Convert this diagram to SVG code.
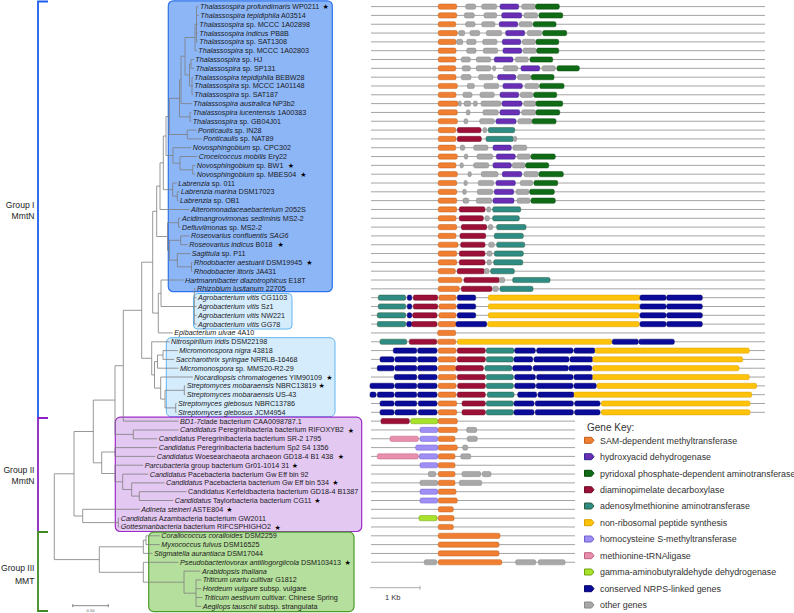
<svg xmlns="http://www.w3.org/2000/svg" width="794" height="613" viewBox="0 0 794 613">
<style>
.t{font-family:"Liberation Sans",Arial,sans-serif;font-size:7.2px;fill:#1a1a1a}
.i{font-style:italic}
.s{font-family:"DejaVu Sans",sans-serif;font-size:7px;fill:#000;text-anchor:middle}
.gl{font-family:"Liberation Sans",Arial,sans-serif;font-size:8.6px;fill:#222;text-anchor:end}
.lg{font-family:"Liberation Sans",Arial,sans-serif;font-size:8.9px;fill:#333}
.tree{fill:none;stroke:#7d7d7d;stroke-width:0.8}
.ln{stroke:#9a9a9a;stroke-width:0.9}
rect.o,rect.p,rect.g,rect.c,rect.t,rect.y,rect.l,rect.k,rect.m,rect.n,rect.x{stroke-width:0.5;rx:1.6px;ry:1.6px}
.o{fill:#f07f32;stroke:#c0601c}
.p{fill:#6a2db4;stroke:#2a2a90}
.g{fill:#0f6b16;stroke:#094d0d}
.c{fill:#9c1038;stroke:#6d0a25}
.t2{fill:#2f8c84;stroke:#2d5d3d}
.y{fill:#ffc20a;stroke:#d8a000}
.l{fill:#9f8ff5;stroke:#6e5fd0}
.k{fill:#e98fae;stroke:#c0607f}
.m{fill:#a8e22a;stroke:#6ea010}
.n{fill:#0b0b99;stroke:#05056a}
.x{fill:#a8a8a8;stroke:#8a8a8a}
rect.t{fill:#2f8c84;stroke:#2d5d3d}
</style>

<g id="boxes">
<rect x="168.3" y="0.8" width="164" height="290.9" rx="5" fill="#8db6f7" stroke="#2d72ea" stroke-width="1.2"/>
<rect x="193.5" y="293.5" width="98.5" height="35.5" rx="4" fill="#d5ecfd" stroke="#62b6f0" stroke-width="1"/>
<rect x="166.3" y="337.7" width="168.7" height="79" rx="5" fill="#d5ecfd" stroke="#62b6f0" stroke-width="1"/>
<rect x="115.3" y="417.2" width="246.4" height="114.3" rx="5" fill="#e3c8f2" stroke="#9b2bc6" stroke-width="1.2"/>
<rect x="148.7" y="532.2" width="205.3" height="79.4" rx="5" fill="#b5df9c" stroke="#4c9a2c" stroke-width="1.2"/>
</g>

<g id="groups">
<path d="M48 1.5H38V418" fill="none" stroke="#1f5fef" stroke-width="1.8"/>
<path d="M48 418H38V531.5" fill="none" stroke="#8a22c4" stroke-width="1.8"/>
<path d="M48 532H38V611H48" fill="none" stroke="#3f8a25" stroke-width="1.8"/>
<text class="gl" x="34.5" y="207.5">Group I</text>
<text class="gl" x="34.5" y="218.8">MmtN</text>
<text class="gl" x="34.5" y="473">Group II</text>
<text class="gl" x="34.5" y="484">MmtN</text>
<text class="gl" x="34.5" y="570.8">Group III</text>
<text class="gl" x="34.5" y="583.8">MMT</text>
</g>

<g id="connectors">
<path class="tree" d="M196.5 6.6V41.9M196.5 6.6H198.5M196.5 15.4H198.8M196.5 24.2H197.8M196.5 33.1H197.8M196.5 41.9H197.8
M195 24.2V50.7M195 24.2H196.5M195 50.7H196.8
M191 59.5V68.3M191 59.5H193.8M191 68.3H194.2
M192 77.2V94.8M192 77.2H192.8M192 86H192.8M192 94.8H192.8
M189.5 63.9V86M189.5 63.9H191M189.5 86H192
M185 37.5V75M185 37.5H195M185 75H189.5
M181 56.2V103.6M181 56.2H185M181 103.6H191.8
M190 112.4V121.3M190 112.4H191.2M190 121.3H191.2
M179.5 79.9V116.9M179.5 79.9H181M179.5 116.9H190
M187.3 130.1V138.9M187.3 130.1H196.5M187.3 138.9H201.8
M169.3 98.4V134.5M169.3 98.4H179.5M169.3 134.5H187.3
M192.7 165.4V174.2M192.7 165.4H195.2M192.7 174.2H195.2
M180 156.5V169.8M180 156.5H197.2M180 169.8H192.7
M173 147.7V163.2M173 147.7H191.2M173 163.2H180
M166 116.5V155.5M166 116.5H169.3M166 155.5H173
M177.3 191.8V200.6M177.3 191.8H179.5M177.3 200.6H178.5
M172.7 183V196.2M172.7 183H176.8M172.7 196.2H177.3
M163.3 136V189.6M163.3 136H166M163.3 189.6H172.7
M160 162.8V209.5M160 162.8H163.3M160 209.5H189.5
M178.5 218.3V227.1M178.5 218.3H180.5M178.5 227.1H180.5
M180.7 235.9V244.7M180.7 235.9H189.5M180.7 244.7H187.8
M191.5 262.4V271.2M191.5 262.4H192.5M191.5 271.2H192.5
M177.3 253.6V266.8M177.3 253.6H190.2M177.3 266.8H191.5
M169.3 240.3V260.2M169.3 240.3H180.7M169.3 260.2H177.3
M167.5 222.7V250.3M167.5 222.7H178.5M167.5 250.3H169.3
M156.7 186.1V236.5M156.7 186.1H160M156.7 236.5H167.5
M194.3 288.8V324.1M194.3 288.8H195.5M194.3 297.7H196.5M194.3 306.5H196.5M194.3 315.3H196.5M194.3 324.1H196.5
M161 280V306.5M161 280H183.5M161 306.5H194.3
M158.3 293.3V332.9M158.3 293.3H161M158.3 332.9H172.8
M152.7 211.3V313.1M152.7 211.3H156.7M152.7 313.1H158.3
M163 350.6V359.4M163 350.6H177.8M163 359.4H174.2
M157.5 355V368.2M157.5 355H163M157.5 368.2H178.5
M184.3 385.9V394.7M184.3 385.9H185.2M184.3 394.7H185.2
M175.7 403.5V412.3M175.7 403.5H176.5M175.7 412.3H176.5
M165 390.3V407.9M165 390.3H184.3M165 407.9H175.7
M160.7 377V399.1M160.7 377H192.8M160.7 399.1H165
M154.5 361.6V388.1M154.5 361.6H157.5M154.5 388.1H160.7
M151.7 341.8V374.9M151.7 341.8H169.5M151.7 374.9H154.5
M141.7 262.2V358.3M141.7 262.2H152.7M141.7 358.3H151.7
M123.3 310.3V421.1M123.3 310.3H141.7M123.3 421.1H178.5
M133.3 430V438.8M133.3 430H178.5M133.3 438.8H157.2
M115 365.7V434.4M115 365.7H123.3M115 434.4H133.3
M115 447.6V456.4M115 447.6H157.2M115 456.4H155.2
M139.3 491.7V500.5M139.3 491.7H186.5M139.3 500.5H173.2
M131.7 482.9V496.1M131.7 482.9H164.5M131.7 496.1H139.3
M122.7 474.1V489.5M122.7 474.1H148.2M122.7 489.5H131.7
M115 465.2V481.8M115 465.2H143.2M115 481.8H122.7
M101.7 452V473.5M101.7 452H115M101.7 473.5H115
M93.3 400.1V462.8M93.3 400.1H115M93.3 462.8H101.7
M118.3 518.2V527M118.3 518.2H119.2M118.3 527H119.2
M82.7 509.3V522.6M82.7 509.3H139.8M82.7 522.6H118.3
M74 431.5V516M74 431.5H93.3M74 516H82.7
M146 535.8V544.6M146 535.8H159.8M146 544.6H159.8
M143.3 540.2V553.4M143.3 540.2H146M143.3 553.4H152.5
M196 579.9V606.4M196 579.9H201.2M196 588.7H201.2M196 597.5H202.5M196 606.4H201.2
M184 571.1V593.2M184 571.1H200.5M184 593.2H196
M143.3 562.3V582.2M143.3 562.3H178.5M143.3 582.2H184
M99.3 546.8V572.3M99.3 546.8H143.3M99.3 572.3H143.3
M54.3 473.8V559.6M54.3 473.8H74M54.3 559.6H99.3"/>
</g>

<g id="n1" transform="translate(0,6.6)"><line class="ln" x1="371" x2="765"/><rect class="o" x="438.3" y="-2.6" width="18.4" height="5.2"/><rect class="x" x="465.7" y="-2.6" width="10" height="5.2"/><rect class="x" x="481.7" y="-2.6" width="15" height="5.2"/><rect class="p" x="500" y="-2.6" width="18.7" height="5.2"/><rect class="x" x="521.7" y="-2.6" width="14" height="5.2"/><rect class="g" x="535.7" y="-2.6" width="23.6" height="5.2"/><text class="t" x="200" y="2.5"><tspan class="i">Thalassospira profundimaris</tspan> WP0211</text><text class="s" x="325.7" y="2.6">★</text></g>
<g id="n2" transform="translate(0,15.42)"><line class="ln" x1="371" x2="765"/><rect class="o" x="438.3" y="-2.6" width="18.4" height="5.2"/><rect class="x" x="464.3" y="-2.6" width="10" height="5.2"/><rect class="x" x="484" y="-2.6" width="12.7" height="5.2"/><rect class="p" x="501.7" y="-2.6" width="20" height="5.2"/><rect class="x" x="524" y="-2.6" width="13.7" height="5.2"/><rect class="g" x="539" y="-2.6" width="23.7" height="5.2"/><text class="t" x="200.3" y="2.5"><tspan class="i">Thalassospira tepidiphila</tspan> A03514</text></g>
<g id="n3" transform="translate(0,24.24)"><line class="ln" x1="371" x2="765"/><rect class="o" x="438.3" y="-2.6" width="17.4" height="5.2"/><rect class="x" x="465.7" y="-2.6" width="9.3" height="5.2"/><rect class="x" x="481.7" y="-2.6" width="13.3" height="5.2"/><rect class="p" x="499.3" y="-2.6" width="18.4" height="5.2"/><rect class="x" x="519.3" y="-2.6" width="13" height="5.2"/><rect class="g" x="533.3" y="-2.6" width="22.7" height="5.2"/><text class="t" x="199.3" y="2.5"><tspan class="i">Thalassospira</tspan> sp. MCCC 1A02898</text></g>
<g id="n4" transform="translate(0,33.06)"><line class="ln" x1="371" x2="765"/><rect class="o" x="438.3" y="-2.6" width="19" height="5.2"/><rect class="x" x="458.7" y="-2.6" width="6" height="5.2"/><rect class="x" x="470" y="-2.6" width="9.7" height="5.2"/><rect class="x" x="486.3" y="-2.6" width="15.4" height="5.2"/><rect class="p" x="505.7" y="-2.6" width="19" height="5.2"/><rect class="x" x="527.3" y="-2.6" width="14.4" height="5.2"/><rect class="g" x="542.7" y="-2.6" width="24" height="5.2"/><text class="t" x="199.3" y="2.5"><tspan class="i">Thalassospira indicus</tspan> PB8B</text></g>
<g id="n5" transform="translate(0,41.88)"><line class="ln" x1="371" x2="765"/><rect class="o" x="438.3" y="-2.6" width="17.7" height="5.2"/><rect class="x" x="456.6" y="-2.6" width="6.1" height="5.2"/><rect class="x" x="466.7" y="-2.6" width="9.3" height="5.2"/><rect class="x" x="482.7" y="-2.6" width="14.3" height="5.2"/><rect class="p" x="502.3" y="-2.6" width="18.4" height="5.2"/><rect class="x" x="522.3" y="-2.6" width="13" height="5.2"/><rect class="g" x="536" y="-2.6" width="22.7" height="5.2"/><text class="t" x="199.3" y="2.5"><tspan class="i">Thalassospira</tspan> sp. SAT1308</text></g>
<g id="n6" transform="translate(0,50.7)"><line class="ln" x1="371" x2="765"/><rect class="o" x="438.3" y="-2.6" width="17.7" height="5.2"/><rect class="x" x="466.7" y="-2.6" width="9.3" height="5.2"/><rect class="x" x="483.3" y="-2.6" width="14.4" height="5.2"/><rect class="p" x="503" y="-2.6" width="18.7" height="5.2"/><rect class="x" x="523" y="-2.6" width="13.3" height="5.2"/><rect class="g" x="536.7" y="-2.6" width="22" height="5.2"/><text class="t" x="198.3" y="2.5"><tspan class="i">Thalassospira</tspan> sp. MCCC 1A02803</text></g>
<g id="n7" transform="translate(0,59.52)"><line class="ln" x1="371" x2="765"/><rect class="o" x="438.3" y="-2.6" width="17.7" height="5.2"/><rect class="x" x="461.3" y="-2.6" width="9" height="5.2"/><rect class="x" x="476.3" y="-2.6" width="14.4" height="5.2"/><rect class="p" x="494.3" y="-2.6" width="18.7" height="5.2"/><rect class="x" x="515.3" y="-2.6" width="13" height="5.2"/><rect class="g" x="530" y="-2.6" width="22.7" height="5.2"/><text class="t" x="195.3" y="2.5"><tspan class="i">Thalassospira</tspan> sp. HJ</text></g>
<g id="n8" transform="translate(0,68.34)"><line class="ln" x1="371" x2="765"/><rect class="o" x="438.3" y="-2.6" width="17.4" height="5.2"/><rect class="x" x="462.3" y="-2.6" width="8" height="5.2"/><rect class="x" x="476.3" y="-2.6" width="14.4" height="5.2"/><rect class="x" x="492.7" y="-2.6" width="3" height="5.2"/><rect class="x" x="503.3" y="-2.6" width="14.4" height="5.2"/><rect class="p" x="521" y="-2.6" width="18.7" height="5.2"/><rect class="x" x="542" y="-2.6" width="13.3" height="5.2"/><rect class="g" x="557" y="-2.6" width="22.3" height="5.2"/><text class="t" x="195.7" y="2.5"><tspan class="i">Thalassospira</tspan> sp. SP131</text></g>
<g id="n9" transform="translate(0,77.16)"><line class="ln" x1="371" x2="765"/><rect class="o" x="438.3" y="-2.6" width="17.7" height="5.2"/><rect class="x" x="461.3" y="-2.6" width="9.7" height="5.2"/><rect class="x" x="478.7" y="-2.6" width="14.3" height="5.2"/><rect class="p" x="497.7" y="-2.6" width="18" height="5.2"/><rect class="x" x="517.7" y="-2.6" width="13" height="5.2"/><rect class="g" x="531.3" y="-2.6" width="22.7" height="5.2"/><text class="t" x="194.3" y="2.5"><tspan class="i">Thalassospira tepidiphila</tspan> BEBW28</text></g>
<g id="n10" transform="translate(0,85.98)"><line class="ln" x1="371" x2="765"/><rect class="o" x="438.3" y="-2.6" width="19" height="5.2"/><rect class="x" x="467.3" y="-2.6" width="7" height="5.2"/><rect class="x" x="484" y="-2.6" width="14.7" height="5.2"/><rect class="p" x="503" y="-2.6" width="19.3" height="5.2"/><rect class="x" x="525" y="-2.6" width="13.7" height="5.2"/><rect class="g" x="539.7" y="-2.6" width="24.3" height="5.2"/><text class="t" x="194.3" y="2.5"><tspan class="i">Thalassospira</tspan> sp. MCCC 1A01148</text></g>
<g id="n11" transform="translate(0,94.8)"><line class="ln" x1="371" x2="765"/><rect class="o" x="438.3" y="-2.6" width="17.7" height="5.2"/><rect class="x" x="463" y="-2.6" width="9" height="5.2"/><rect class="x" x="480" y="-2.6" width="14.3" height="5.2"/><rect class="p" x="500" y="-2.6" width="18.7" height="5.2"/><rect class="x" x="520.3" y="-2.6" width="12.7" height="5.2"/><rect class="g" x="533.7" y="-2.6" width="23" height="5.2"/><text class="t" x="194.3" y="2.5"><tspan class="i">Thalassospira</tspan> sp. SAT187</text></g>
<g id="n12" transform="translate(0,103.62)"><line class="ln" x1="371" x2="765"/><rect class="o" x="438.3" y="-2.6" width="19.7" height="5.2"/><rect class="x" x="458.5" y="-2.6" width="2.8" height="5.2"/><rect class="x" x="464" y="-2.6" width="6.7" height="5.2"/><rect class="x" x="473.3" y="-2.6" width="4" height="5.2"/><rect class="x" x="481" y="-2.6" width="20" height="5.2"/><rect class="p" x="502" y="-2.6" width="20" height="5.2"/><rect class="x" x="523.7" y="-2.6" width="12.3" height="5.2"/><rect class="g" x="536" y="-2.6" width="26.7" height="5.2"/><text class="t" x="193.3" y="2.5"><tspan class="i">Thalassospira australica</tspan> NP3b2</text></g>
<g id="n13" transform="translate(0,112.44)"><line class="ln" x1="371" x2="765"/><rect class="o" x="438.3" y="-2.6" width="19" height="5.2"/><rect class="x" x="466.3" y="-2.6" width="3.7" height="5.2"/><rect class="x" x="483" y="-2.6" width="15.3" height="5.2"/><rect class="p" x="500" y="-2.6" width="19.7" height="5.2"/><rect class="x" x="521.7" y="-2.6" width="14" height="5.2"/><rect class="g" x="536" y="-2.6" width="23.7" height="5.2"/><text class="t" x="192.7" y="2.5"><tspan class="i">Thalassospira lucentensis</tspan> 1A00383</text></g>
<g id="n14" transform="translate(0,121.26)"><line class="ln" x1="371" x2="765"/><rect class="o" x="438.3" y="-2.6" width="19" height="5.2"/><rect class="x" x="464" y="-2.6" width="3.7" height="5.2"/><rect class="x" x="479.7" y="-2.6" width="14.6" height="5.2"/><rect class="p" x="496" y="-2.6" width="20" height="5.2"/><rect class="x" x="518" y="-2.6" width="14" height="5.2"/><rect class="g" x="532.3" y="-2.6" width="23.7" height="5.2"/><text class="t" x="192.7" y="2.5"><tspan class="i">Thalassospira</tspan> sp. GB04J01</text></g>
<g id="n15" transform="translate(0,130.08)"><line class="ln" x1="371" x2="765"/><rect class="o" x="438.3" y="-2.6" width="17.4" height="5.2"/><rect class="c" x="457.3" y="-2.6" width="23.7" height="5.2"/><rect class="x" x="483" y="-2.6" width="3.7" height="5.2"/><rect class="t" x="488.3" y="-2.6" width="26.4" height="5.2"/><text class="t" x="198" y="2.5"><tspan class="i">Ponticaulis</tspan> sp. IN28</text></g>
<g id="n16" transform="translate(0,138.9)"><line class="ln" x1="371" x2="765"/><rect class="o" x="438.3" y="-2.6" width="17.7" height="5.2"/><rect class="c" x="457.3" y="-2.6" width="24" height="5.2"/><rect class="t" x="486" y="-2.6" width="27.3" height="5.2"/><rect class="x" x="513.3" y="-2.6" width="3.4" height="5.2"/><text class="t" x="203.3" y="2.5"><tspan class="i">Ponticaulis</tspan> sp. NAT89</text></g>
<g id="n17" transform="translate(0,147.72)"><line class="ln" x1="371" x2="765"/><rect class="o" x="438.3" y="-2.6" width="17.4" height="5.2"/><rect class="x" x="460.3" y="-2.6" width="4.4" height="5.2"/><rect class="x" x="473.7" y="-2.6" width="14.3" height="5.2"/><rect class="p" x="493" y="-2.6" width="18.3" height="5.2"/><rect class="x" x="513" y="-2.6" width="13.7" height="5.2"/><text class="t" x="192.7" y="2.5"><tspan class="i">Novosphingobium</tspan> sp. CPC302</text></g>
<g id="n18" transform="translate(0,156.54)"><line class="ln" x1="371" x2="765"/><rect class="o" x="438.3" y="-2.6" width="19" height="5.2"/><rect class="x" x="464.3" y="-2.6" width="3.4" height="5.2"/><rect class="x" x="477" y="-2.6" width="15.7" height="5.2"/><rect class="p" x="496.3" y="-2.6" width="19" height="5.2"/><rect class="x" x="517.3" y="-2.6" width="13" height="5.2"/><rect class="g" x="531" y="-2.6" width="24.3" height="5.2"/><text class="t" x="198.7" y="2.5"><tspan class="i">Croceicoccus mobilis</tspan> Ery22</text></g>
<g id="n19" transform="translate(0,165.36)"><line class="ln" x1="371" x2="765"/><rect class="o" x="438.3" y="-2.6" width="17.7" height="5.2"/><rect class="x" x="460" y="-2.6" width="3.3" height="5.2"/><rect class="x" x="473.7" y="-2.6" width="15" height="5.2"/><rect class="p" x="493" y="-2.6" width="18.3" height="5.2"/><rect class="x" x="512.3" y="-2.6" width="13" height="5.2"/><rect class="g" x="525.7" y="-2.6" width="23" height="5.2"/><text class="t" x="196.7" y="2.5"><tspan class="i">Novosphingobium</tspan> sp. BW1</text><text class="s" x="291" y="2.6">★</text></g>
<g id="n20" transform="translate(0,174.18)"><line class="ln" x1="371" x2="765"/><rect class="o" x="438.3" y="-2.6" width="19" height="5.2"/><rect class="x" x="468" y="-2.6" width="3.3" height="5.2"/><rect class="x" x="481.3" y="-2.6" width="16.7" height="5.2"/><rect class="p" x="502.3" y="-2.6" width="19.4" height="5.2"/><rect class="x" x="524" y="-2.6" width="14.3" height="5.2"/><rect class="g" x="539" y="-2.6" width="24.3" height="5.2"/><text class="t" x="196.7" y="2.5"><tspan class="i">Novosphingobium</tspan> sp. MBES04</text><text class="s" x="303.3" y="2.6">★</text></g>
<g id="n21" transform="translate(0,183)"><line class="ln" x1="371" x2="765"/><rect class="o" x="438.3" y="-2.6" width="18.4" height="5.2"/><rect class="x" x="464" y="-2.6" width="3.3" height="5.2"/><rect class="x" x="478.3" y="-2.6" width="15.4" height="5.2"/><rect class="p" x="496" y="-2.6" width="19.3" height="5.2"/><rect class="x" x="520.3" y="-2.6" width="12.4" height="5.2"/><rect class="g" x="534" y="-2.6" width="23.7" height="5.2"/><text class="t" x="178.3" y="2.5"><tspan class="i">Labrenzia</tspan> sp. 011</text></g>
<g id="n22" transform="translate(0,191.82)"><line class="ln" x1="371" x2="765"/><rect class="o" x="438.3" y="-2.6" width="18.4" height="5.2"/><rect class="x" x="462.7" y="-2.6" width="3.6" height="5.2"/><rect class="x" x="477.3" y="-2.6" width="15.4" height="5.2"/><rect class="p" x="494.3" y="-2.6" width="19.4" height="5.2"/><rect class="x" x="516" y="-2.6" width="13" height="5.2"/><rect class="g" x="529.7" y="-2.6" width="24.6" height="5.2"/><text class="t" x="181" y="2.5"><tspan class="i">Labrenzia marina</tspan> DSM17023</text></g>
<g id="n23" transform="translate(0,200.64)"><line class="ln" x1="371" x2="765"/><rect class="o" x="438.3" y="-2.6" width="18.4" height="5.2"/><rect class="x" x="463" y="-2.6" width="5.7" height="5.2"/><rect class="x" x="476.3" y="-2.6" width="15.4" height="5.2"/><rect class="p" x="493" y="-2.6" width="21" height="5.2"/><rect class="x" x="517" y="-2.6" width="13" height="5.2"/><rect class="g" x="531" y="-2.6" width="24.3" height="5.2"/><text class="t" x="180" y="2.5"><tspan class="i">Labrenzia</tspan> sp. OB1</text></g>
<g id="n24" transform="translate(0,209.46)"><line class="ln" x1="371" x2="765"/><rect class="o" x="438.3" y="-2.6" width="18.4" height="5.2"/><rect class="c" x="459.3" y="-2.6" width="25.7" height="5.2"/><rect class="x" x="486.7" y="-2.6" width="4" height="5.2"/><rect class="t" x="492.7" y="-2.6" width="28" height="5.2"/><text class="t" x="191" y="2.5"><tspan class="i">Alteromonadaceaebacterium</tspan> 2052S</text></g>
<g id="n25" transform="translate(0,218.28)"><line class="ln" x1="371" x2="765"/><rect class="o" x="438.3" y="-2.6" width="17.7" height="5.2"/><rect class="c" x="459.3" y="-2.6" width="24" height="5.2"/><rect class="x" x="485" y="-2.6" width="4.3" height="5.2"/><rect class="t" x="492.7" y="-2.6" width="26.6" height="5.2"/><text class="t" x="182" y="2.5"><tspan class="i">Acidimangrovimonas sediminis</tspan> MS2-2</text></g>
<g id="n26" transform="translate(0,227.1)"><line class="ln" x1="371" x2="765"/><rect class="o" x="438.3" y="-2.6" width="18.4" height="5.2"/><rect class="c" x="461.3" y="-2.6" width="25.4" height="5.2"/><rect class="x" x="488.3" y="-2.6" width="4.4" height="5.2"/><rect class="t" x="496.7" y="-2.6" width="29.3" height="5.2"/><text class="t" x="182" y="2.5"><tspan class="i">Defluviimonas</tspan> sp. MS2-2</text></g>
<g id="n27" transform="translate(0,235.92)"><line class="ln" x1="371" x2="765"/><rect class="o" x="438.3" y="-2.6" width="17.7" height="5.2"/><rect class="c" x="460" y="-2.6" width="25.7" height="5.2"/><rect class="t" x="494.3" y="-2.6" width="29" height="5.2"/><text class="t i" x="191" y="2.5">Roseovarius confluentis SAG6</text></g>
<g id="n28" transform="translate(0,244.74)"><line class="ln" x1="371" x2="765"/><rect class="o" x="438.3" y="-2.6" width="19.7" height="5.2"/><rect class="c" x="460.7" y="-2.6" width="24.3" height="5.2"/><rect class="x" x="488.7" y="-2.6" width="5.6" height="5.2"/><rect class="t" x="496.7" y="-2.6" width="28" height="5.2"/><text class="t" x="189.3" y="2.5"><tspan class="i">Roseovarius indicus</tspan> B018</text><text class="s" x="280.7" y="2.6">★</text></g>
<g id="n29" transform="translate(0,253.56)"><line class="ln" x1="371" x2="765"/><rect class="o" x="438.3" y="-2.6" width="18.4" height="5.2"/><rect class="c" x="459.3" y="-2.6" width="25.7" height="5.2"/><rect class="x" x="487" y="-2.6" width="5" height="5.2"/><rect class="t" x="494.3" y="-2.6" width="29" height="5.2"/><text class="t" x="191.7" y="2.5"><tspan class="i">Sagittula</tspan> sp. P11</text></g>
<g id="n30" transform="translate(0,262.38)"><line class="ln" x1="371" x2="765"/><rect class="o" x="438.3" y="-2.6" width="18.4" height="5.2"/><rect class="c" x="459.3" y="-2.6" width="25.7" height="5.2"/><rect class="x" x="487" y="-2.6" width="4.3" height="5.2"/><rect class="t" x="493.7" y="-2.6" width="29" height="5.2"/><text class="t" x="194" y="2.5"><tspan class="i">Rhodobacter aestuarii</tspan> DSM19945</text><text class="s" x="309.3" y="2.6">★</text></g>
<g id="n31" transform="translate(0,271.2)"><line class="ln" x1="371" x2="765"/><rect class="o" x="438.3" y="-2.6" width="17" height="5.2"/><rect class="c" x="457.3" y="-2.6" width="27" height="5.2"/><rect class="x" x="484.3" y="-2.6" width="4.7" height="5.2"/><rect class="t" x="490.7" y="-2.6" width="23.6" height="5.2"/><text class="t" x="194" y="2.5"><tspan class="i">Rhodobacter litoris</tspan> JA431</text></g>
<g id="n32" transform="translate(0,280.02)"><line class="ln" x1="371" x2="765"/><rect class="o" x="438.3" y="-2.6" width="23.4" height="5.2"/><rect class="c" x="464" y="-2.6" width="35.3" height="5.2"/><rect class="x" x="499.3" y="-2.6" width="5.4" height="5.2"/><rect class="t" x="512.7" y="-2.6" width="37.3" height="5.2"/><text class="t" x="185" y="2.5"><tspan class="i">Hartmannibacter diazotrophicus</tspan> E18T</text></g>
<g id="n33" transform="translate(0,288.84)"><line class="ln" x1="371" x2="765"/><rect class="o" x="438.3" y="-2.6" width="21" height="5.2"/><rect class="c" x="461.3" y="-2.6" width="30.7" height="5.2"/><rect class="x" x="492.7" y="-2.6" width="5.6" height="5.2"/><rect class="t" x="500" y="-2.6" width="33" height="5.2"/><text class="t" x="197" y="2.5"><tspan class="i">Rhizobium lusitanum</tspan> 22705</text></g>
<g id="n34" transform="translate(0,297.66)"><line class="ln" x1="371" x2="765"/><rect class="t" x="378.3" y="-2.6" width="27.4" height="5.2"/><rect class="n" x="407.3" y="-2.6" width="4.4" height="5.2"/><rect class="c" x="413.3" y="-2.6" width="24.4" height="5.2"/><rect class="o" x="439" y="-2.6" width="17" height="5.2"/><rect class="n" x="457.3" y="-2.6" width="18.4" height="5.2"/><rect class="y" x="488.3" y="-2.6" width="151.7" height="5.2"/><rect class="n" x="640" y="-2.6" width="26" height="5.2"/><rect class="n" x="666.7" y="-2.6" width="35.6" height="5.2"/><text class="t" x="198" y="2.5"><tspan class="i">Agrobacterium vitis</tspan> CG1103</text></g>
<g id="n35" transform="translate(0,306.48)"><line class="ln" x1="371" x2="765"/><rect class="t" x="378.3" y="-2.6" width="27.4" height="5.2"/><rect class="n" x="407.3" y="-2.6" width="4.4" height="5.2"/><rect class="c" x="413.3" y="-2.6" width="24.4" height="5.2"/><rect class="o" x="439" y="-2.6" width="17" height="5.2"/><rect class="n" x="457.3" y="-2.6" width="18.4" height="5.2"/><rect class="y" x="488.3" y="-2.6" width="151.7" height="5.2"/><rect class="n" x="640" y="-2.6" width="26" height="5.2"/><rect class="n" x="666.7" y="-2.6" width="35.6" height="5.2"/><text class="t" x="198" y="2.5"><tspan class="i">Agrobacterium vitis</tspan> Sz1</text></g>
<g id="n36" transform="translate(0,315.3)"><line class="ln" x1="371" x2="765"/><rect class="t" x="377.3" y="-2.6" width="28.4" height="5.2"/><rect class="n" x="407.3" y="-2.6" width="4.4" height="5.2"/><rect class="c" x="412.7" y="-2.6" width="24.3" height="5.2"/><rect class="o" x="439" y="-2.6" width="17" height="5.2"/><rect class="n" x="457.3" y="-2.6" width="18.4" height="5.2"/><rect class="y" x="488.3" y="-2.6" width="151" height="5.2"/><rect class="n" x="640" y="-2.6" width="26" height="5.2"/><rect class="n" x="666.7" y="-2.6" width="35.6" height="5.2"/><text class="t" x="198" y="2.5"><tspan class="i">Agrobacterium vitis</tspan> NW221</text></g>
<g id="n37" transform="translate(0,324.12)"><line class="ln" x1="371" x2="765"/><rect class="t" x="377.3" y="-2.6" width="28.4" height="5.2"/><rect class="n" x="406.7" y="-2.6" width="5" height="5.2"/><rect class="c" x="411.7" y="-2.6" width="25.3" height="5.2"/><rect class="o" x="438.3" y="-2.6" width="17.7" height="5.2"/><rect class="n" x="456" y="-2.6" width="30.7" height="5.2"/><rect class="y" x="487.7" y="-2.6" width="151.6" height="5.2"/><rect class="n" x="640" y="-2.6" width="26" height="5.2"/><rect class="n" x="666.7" y="-2.6" width="35.6" height="5.2"/><text class="t" x="198" y="2.5"><tspan class="i">Agrobacterium vitis</tspan> GG78</text></g>
<g id="n38" transform="translate(0,332.94)"><line class="ln" x1="371" x2="765"/><rect class="o" x="437.7" y="-2.6" width="18" height="5.2"/><text class="t" x="174.3" y="2.5"><tspan class="i">Epibacterium ulvae</tspan> 4A10</text></g>
<g id="n39" transform="translate(0,341.76)"><line class="ln" x1="371" x2="765"/><rect class="t" x="380" y="-2.6" width="26.7" height="5.2"/><rect class="c" x="409.3" y="-2.6" width="27.4" height="5.2"/><rect class="o" x="437.7" y="-2.6" width="18" height="5.2"/><rect class="y" x="457.3" y="-2.6" width="154.4" height="5.2"/><rect class="n" x="612.3" y="-2.6" width="26" height="5.2"/><rect class="n" x="639" y="-2.6" width="35.3" height="5.2"/><text class="t" x="171" y="2.5"><tspan class="i">Nitrospirillum iridis</tspan> DSM22198</text></g>
<g id="n40" transform="translate(0,350.58)"><line class="ln" x1="371" x2="765"/><rect class="n" x="393.3" y="-2.6" width="23.4" height="5.2"/><rect class="n" x="417.7" y="-2.6" width="19.3" height="5.2"/><rect class="o" x="438.3" y="-2.6" width="17.7" height="5.2"/><rect class="c" x="457.3" y="-2.6" width="28" height="5.2"/><rect class="t" x="486.3" y="-2.6" width="27.7" height="5.2"/><rect class="n" x="514.7" y="-2.6" width="20.6" height="5.2"/><rect class="n" x="536.7" y="-2.6" width="36.3" height="5.2"/><rect class="n" x="574" y="-2.6" width="21" height="5.2"/><rect class="y" x="595" y="-2.6" width="154.3" height="5.2"/><text class="t" x="179.3" y="2.5"><tspan class="i">Micromonospora nigra</tspan> 43818</text></g>
<g id="n41" transform="translate(0,359.4)"><line class="ln" x1="371" x2="765"/><rect class="n" x="380" y="-2.6" width="14" height="5.2"/><rect class="n" x="395" y="-2.6" width="21.7" height="5.2"/><rect class="n" x="417.7" y="-2.6" width="19.3" height="5.2"/><rect class="o" x="438.3" y="-2.6" width="17.7" height="5.2"/><rect class="c" x="457.3" y="-2.6" width="28" height="5.2"/><rect class="t" x="486.3" y="-2.6" width="27" height="5.2"/><rect class="n" x="514" y="-2.6" width="18.7" height="5.2"/><rect class="n" x="534" y="-2.6" width="35" height="5.2"/><rect class="n" x="570" y="-2.6" width="22.7" height="5.2"/><rect class="y" x="592.7" y="-2.6" width="150" height="5.2"/><text class="t" x="175.7" y="2.5"><tspan class="i">Saccharothrix syringae</tspan> NRRLB-16468</text></g>
<g id="n42" transform="translate(0,368.22)"><line class="ln" x1="371" x2="765"/><rect class="n" x="377.3" y="-2.6" width="16.7" height="5.2"/><rect class="n" x="395" y="-2.6" width="21.7" height="5.2"/><rect class="n" x="417.7" y="-2.6" width="19.3" height="5.2"/><rect class="o" x="438.3" y="-2.6" width="17.4" height="5.2"/><rect class="c" x="456" y="-2.6" width="27.3" height="5.2"/><rect class="t" x="485" y="-2.6" width="26.7" height="5.2"/><rect class="n" x="512.7" y="-2.6" width="19" height="5.2"/><rect class="n" x="533.3" y="-2.6" width="35" height="5.2"/><rect class="n" x="569" y="-2.6" width="22.7" height="5.2"/><rect class="y" x="592.7" y="-2.6" width="146.3" height="5.2"/><text class="t" x="180" y="2.5"><tspan class="i">Micromonospora</tspan> sp. MMS20-R2-29</text></g>
<g id="n43" transform="translate(0,377.04)"><line class="ln" x1="371" x2="765"/><rect class="n" x="394.3" y="-2.6" width="22.4" height="5.2"/><rect class="n" x="418.3" y="-2.6" width="18.7" height="5.2"/><rect class="o" x="438.3" y="-2.6" width="17.7" height="5.2"/><rect class="c" x="457.3" y="-2.6" width="28" height="5.2"/><rect class="t" x="486.3" y="-2.6" width="27" height="5.2"/><rect class="n" x="514.7" y="-2.6" width="20.6" height="5.2"/><rect class="n" x="536.7" y="-2.6" width="36.3" height="5.2"/><rect class="n" x="574" y="-2.6" width="18.7" height="5.2"/><rect class="y" x="592.7" y="-2.6" width="156.6" height="5.2"/><text class="t" x="194.3" y="2.5"><tspan class="i">Nocardiopsis chromatogenes</tspan> YIM90109</text><text class="s" x="329.3" y="2.6">★</text></g>
<g id="n44" transform="translate(0,385.86)"><line class="ln" x1="371" x2="765"/><rect class="n" x="370" y="-2.6" width="24" height="5.2"/><rect class="n" x="395" y="-2.6" width="21.7" height="5.2"/><rect class="n" x="417.7" y="-2.6" width="19.3" height="5.2"/><rect class="o" x="438.3" y="-2.6" width="17.7" height="5.2"/><rect class="c" x="457.7" y="-2.6" width="27.6" height="5.2"/><rect class="t" x="486.3" y="-2.6" width="27" height="5.2"/><rect class="n" x="514.7" y="-2.6" width="20.6" height="5.2"/><rect class="n" x="536.3" y="-2.6" width="36.7" height="5.2"/><rect class="n" x="574" y="-2.6" width="22.3" height="5.2"/><rect class="y" x="597" y="-2.6" width="159.7" height="5.2"/><text class="t" x="186.7" y="2.5"><tspan class="i">Streptomyces mobaraensis</tspan> NBRC13819</text><text class="s" x="321.7" y="2.6">★</text></g>
<g id="n45" transform="translate(0,394.68)"><line class="ln" x1="371" x2="765"/><rect class="n" x="370" y="-2.6" width="6" height="5.2"/><rect class="n" x="377.3" y="-2.6" width="16.7" height="5.2"/><rect class="n" x="395" y="-2.6" width="21.7" height="5.2"/><rect class="n" x="417.7" y="-2.6" width="19.3" height="5.2"/><rect class="o" x="438.3" y="-2.6" width="17.7" height="5.2"/><rect class="c" x="457.3" y="-2.6" width="28" height="5.2"/><rect class="t" x="487.3" y="-2.6" width="26.7" height="5.2"/><rect class="n" x="517.7" y="-2.6" width="19" height="5.2"/><rect class="n" x="538" y="-2.6" width="36" height="5.2"/><rect class="y" x="574" y="-2.6" width="177.7" height="5.2"/><text class="t" x="186.7" y="2.5"><tspan class="i">Streptomyces mobaraensis</tspan> US-43</text></g>
<g id="n46" transform="translate(0,403.5)"><line class="ln" x1="371" x2="765"/><rect class="n" x="380" y="-2.6" width="14" height="5.2"/><rect class="n" x="395" y="-2.6" width="21.7" height="5.2"/><rect class="n" x="418.3" y="-2.6" width="18.7" height="5.2"/><rect class="o" x="438.3" y="-2.6" width="18.4" height="5.2"/><rect class="c" x="462" y="-2.6" width="23.3" height="5.2"/><rect class="t" x="486.3" y="-2.6" width="27" height="5.2"/><rect class="n" x="514" y="-2.6" width="20" height="5.2"/><rect class="n" x="535.3" y="-2.6" width="38" height="5.2"/><rect class="n" x="574.7" y="-2.6" width="25.3" height="5.2"/><rect class="y" x="601.3" y="-2.6" width="148.7" height="5.2"/><text class="t" x="178" y="2.5"><tspan class="i">Streptomyces glebosus</tspan> NBRC13786</text></g>
<g id="n47" transform="translate(0,412.32)"><line class="ln" x1="371" x2="765"/><rect class="n" x="380" y="-2.6" width="14" height="5.2"/><rect class="n" x="395" y="-2.6" width="21.7" height="5.2"/><rect class="n" x="418.3" y="-2.6" width="18.7" height="5.2"/><rect class="o" x="438.3" y="-2.6" width="18.4" height="5.2"/><rect class="c" x="462" y="-2.6" width="23.3" height="5.2"/><rect class="t" x="486.3" y="-2.6" width="27" height="5.2"/><rect class="n" x="514" y="-2.6" width="20" height="5.2"/><rect class="n" x="535.3" y="-2.6" width="38" height="5.2"/><rect class="n" x="574.7" y="-2.6" width="25.3" height="5.2"/><rect class="y" x="601.3" y="-2.6" width="148.7" height="5.2"/><text class="t" x="178" y="2.5"><tspan class="i">Streptomyces glebosus</tspan> JCM4954</text></g>
<g id="n48" transform="translate(0,421.14)"><line class="ln" x1="371" x2="575"/><rect class="c" x="381" y="-2.6" width="28.3" height="5.2"/><rect class="m" x="410.7" y="-2.6" width="27" height="5.2"/><rect class="o" x="438.3" y="-2.6" width="19" height="5.2"/><text class="t" x="180" y="2.5"><tspan class="i">BD1-7</tspan>clade bacterium CAA0098787.1</text></g>
<g id="n49" transform="translate(0,429.96)"><line class="ln" x1="371" x2="575"/><rect class="l" x="420" y="-2.6" width="17.7" height="5.2"/><rect class="o" x="438.3" y="-2.6" width="19" height="5.2"/><rect class="x" x="466.7" y="-2.6" width="10" height="5.2"/><text class="t" x="180" y="2.5"><tspan class="i">Candidatus</tspan> Peregrinibacteria bacterium RIFOXYB2</text><text class="s" x="351" y="2.6">★</text></g>
<g id="n50" transform="translate(0,438.78)"><line class="ln" x1="371" x2="575"/><rect class="k" x="390" y="-2.6" width="28.3" height="5.2"/><rect class="l" x="420" y="-2.6" width="17.7" height="5.2"/><rect class="o" x="438.3" y="-2.6" width="16.7" height="5.2"/><rect class="x" x="467.3" y="-2.6" width="10" height="5.2"/><text class="t" x="158.7" y="2.5"><tspan class="i">Candidatus</tspan> Peregrinibacteria bacterium SR-2 1795</text></g>
<g id="n51" transform="translate(0,447.6)"><line class="ln" x1="371" x2="575"/><rect class="l" x="415.7" y="-2.6" width="22.3" height="5.2"/><rect class="o" x="438.3" y="-2.6" width="19" height="5.2"/><rect class="x" x="462.7" y="-2.6" width="5" height="5.2"/><text class="t" x="158.7" y="2.5"><tspan class="i">Candidatus</tspan> Peregrinibacteria bacterium Sp2 S4 1356</text></g>
<g id="n52" transform="translate(0,456.42)"><line class="ln" x1="371" x2="575"/><rect class="k" x="377.3" y="-2.6" width="41" height="5.2"/><rect class="l" x="419.3" y="-2.6" width="18.4" height="5.2"/><rect class="o" x="438.3" y="-2.6" width="16.7" height="5.2"/><rect class="x" x="460.7" y="-2.6" width="10" height="5.2"/><text class="t" x="156.7" y="2.5"><tspan class="i">Candidatus</tspan> Woesearchaeota archaeon GD18-4 B1 438</text><text class="s" x="341" y="2.6">★</text></g>
<g id="n53" transform="translate(0,465.24)"><line class="ln" x1="371" x2="575"/><rect class="l" x="420" y="-2.6" width="17.7" height="5.2"/><rect class="o" x="438.3" y="-2.6" width="16.7" height="5.2"/><text class="t" x="144.7" y="2.5"><tspan class="i">Parcubacteria</tspan> group bacterium Gr01-1014 31</text><text class="s" x="295" y="2.6">★</text></g>
<g id="n54" transform="translate(0,474.06)"><line class="ln" x1="371" x2="575"/><rect class="x" x="428.3" y="-2.6" width="7.4" height="5.2"/><rect class="o" x="438.3" y="-2.6" width="16.7" height="5.2"/><rect class="x" x="462" y="-2.6" width="18.7" height="5.2"/><rect class="x" x="482.3" y="-2.6" width="8.7" height="5.2"/><text class="t" x="149.7" y="2.5"><tspan class="i">Candidatus</tspan> Pacebacteria bacterium Gw Eff bin 92</text></g>
<g id="n55" transform="translate(0,482.88)"><line class="ln" x1="371" x2="575"/><rect class="x" x="420" y="-2.6" width="17.7" height="5.2"/><rect class="o" x="438.3" y="-2.6" width="16.7" height="5.2"/><rect class="x" x="459.3" y="-2.6" width="22.4" height="5.2"/><text class="t" x="166" y="2.5"><tspan class="i">Candidatus</tspan> Pacebacteria bacterium Gw Eff bin 534</text><text class="s" x="335.3" y="2.6">★</text></g>
<g id="n56" transform="translate(0,491.7)"><line class="ln" x1="371" x2="575"/><rect class="l" x="420" y="-2.6" width="17.7" height="5.2"/><rect class="o" x="438.3" y="-2.6" width="17.7" height="5.2"/><text class="t" x="188" y="2.5">Candidatus Kerfeldbacteria bacterium GD18-4 B1387</text></g>
<g id="n57" transform="translate(0,500.52)"><line class="ln" x1="371" x2="575"/><rect class="l" x="420" y="-2.6" width="17.7" height="5.2"/><rect class="o" x="438.3" y="-2.6" width="19" height="5.2"/><text class="t" x="174.7" y="2.5"><tspan class="i">Candidatus</tspan> Taylorbacteria bacterium CG11</text><text class="s" x="317.3" y="2.6">★</text></g>
<g id="n58" transform="translate(0,509.34)"><line class="ln" x1="371" x2="575"/><rect class="o" x="438.3" y="-2.6" width="15" height="5.2"/><text class="t" x="141.3" y="2.5"><tspan class="i">Adineta steineri</tspan> ASTE804</text><text class="s" x="229.5" y="2.6">★</text></g>
<g id="n59" transform="translate(0,518.16)"><line class="ln" x1="371" x2="575"/><rect class="m" x="419" y="-2.6" width="18" height="5.2"/><rect class="o" x="438.3" y="-2.6" width="15.7" height="5.2"/><text class="t" x="120.7" y="2.5"><tspan class="i">Candidatus</tspan> Azambacteria bacterium GW2011</text></g>
<g id="n60" transform="translate(0,526.98)"><line class="ln" x1="371" x2="575"/><rect class="o" x="438.3" y="-2.6" width="15" height="5.2"/><text class="t" x="120.7" y="2.5"><tspan class="i">Gottesmanbacteria</tspan> bacterium RIFCSPHIGHO2</text><text class="s" x="277.7" y="2.6">★</text></g>
<g id="n61" transform="translate(0,535.8)"><line class="ln" x1="371" x2="575"/><rect class="o" x="438.3" y="-2.6" width="61.7" height="5.2"/><text class="t" x="161.3" y="2.5"><tspan class="i">Corallococcus coralloides</tspan> DSM2259</text></g>
<g id="n62" transform="translate(0,544.62)"><line class="ln" x1="371" x2="575"/><rect class="o" x="438.3" y="-2.6" width="60.7" height="5.2"/><text class="t" x="161.3" y="2.5"><tspan class="i">Myxococcus fulvus</tspan> DSM16525</text></g>
<g id="n63" transform="translate(0,553.44)"><line class="ln" x1="371" x2="575"/><rect class="o" x="438.3" y="-2.6" width="60.7" height="5.2"/><text class="t" x="154" y="2.5"><tspan class="i">Stigmatella aurantiaca</tspan> DSM17044</text></g>
<g id="n64" transform="translate(0,562.26)"><line class="ln" x1="371" x2="575"/><rect class="x" x="424.3" y="-2.6" width="12.4" height="5.2"/><rect class="o" x="438.3" y="-2.6" width="63.4" height="5.2"/><rect class="x" x="515.7" y="-2.6" width="20" height="5.2"/><rect class="x" x="538.3" y="-2.6" width="26.7" height="5.2"/><text class="t" x="180" y="2.5"><tspan class="i">Pseudobacteriovorax antillogorgiicola</tspan> DSM103413</text><text class="s" x="347.7" y="2.6">★</text></g>
<g id="n65" transform="translate(0,571.08)"><text class="t i" x="202" y="2.5">Arabidopsis thaliana</text></g>
<g id="n66" transform="translate(0,579.9)"><text class="t" x="202.7" y="2.5"><tspan class="i">Triticum urartu</tspan> cultivar G1812</text></g>
<g id="n67" transform="translate(0,588.72)"><text class="t" x="202.7" y="2.5"><tspan class="i">Hordeum vulgare</tspan> subsp. vulgare</text></g>
<g id="n68" transform="translate(0,597.54)"><text class="t" x="204" y="2.5"><tspan class="i">Triticum aestivum</tspan> cultivar: Chinese Spring</text></g>
<g id="n69" transform="translate(0,606.36)"><text class="t" x="202.7" y="2.5"><tspan class="i">Aegilops tauschii</tspan> subsp. strangulata</text></g>

<g id="scales">
<path d="M72.7 605.7H108.3M72.7 604.2V607.2M108.3 604.2V607.2" fill="none" stroke="#555" stroke-width="0.7"/>
<text x="90.5" y="611.5" font-family="Liberation Sans, Arial, sans-serif" font-size="4" fill="#555" text-anchor="middle">0.50</text>
<path d="M370 587.7H420M420 585.7V589.7" fill="none" stroke="#aaa" stroke-width="1"/>
<text x="385" y="600" font-family="Liberation Sans, Arial, sans-serif" font-size="7.5" fill="#333">1 Kb</text>
</g>

<g id="legend">
<text x="587" y="430.5" font-family="Liberation Sans, Arial, sans-serif" font-size="10" fill="#333">Gene Key:</text>
<path class="o" d="M584.5 437.3h7l2.5 3-2.5 3h-7z"/>
<path class="p" d="M584.5 453.7h7l2.5 3-2.5 3h-7z"/>
<path class="g" d="M584.5 470.3h7l2.5 3-2.5 3h-7z"/>
<path class="c" d="M584.5 486.7h7l2.5 3-2.5 3h-7z"/>
<path class="t2" d="M584.5 503h7l2.5 3-2.5 3h-7z"/>
<path class="y" d="M584.5 519.7h7l2.5 3-2.5 3h-7z"/>
<path class="l" d="M584.5 536h7l2.5 3-2.5 3h-7z"/>
<path class="k" d="M584.5 552.7h7l2.5 3-2.5 3h-7z"/>
<path class="m" d="M584.5 569h7l2.5 3-2.5 3h-7z"/>
<path class="n" d="M584.5 585.7h7l2.5 3-2.5 3h-7z"/>
<path class="x" d="M584.5 602h7l2.5 3-2.5 3h-7z"/>
<text class="lg" x="600" y="443.5">SAM-dependent methyltransferase</text>
<text class="lg" x="600" y="459.9">hydroxyacid dehydrogenase</text>
<text class="lg" x="600" y="476.5">pyridoxal phosphate-dependent aminotransferase</text>
<text class="lg" x="600" y="492.9">diaminopimelate decarboxylase</text>
<text class="lg" x="600" y="509.2">adenosylmethionine aminotransferase</text>
<text class="lg" x="600" y="525.9">non-ribosomal peptide synthesis</text>
<text class="lg" x="600" y="542.2">homocysteine S-methyltransferase</text>
<text class="lg" x="600" y="558.9">methionine-tRNAligase</text>
<text class="lg" x="600" y="575.2">gamma-aminobutyraldehyde dehydrogenase</text>
<text class="lg" x="600" y="591.9">conserved NRPS-linked genes</text>
<text class="lg" x="600" y="608.2">other genes</text>
</g>
</svg>
